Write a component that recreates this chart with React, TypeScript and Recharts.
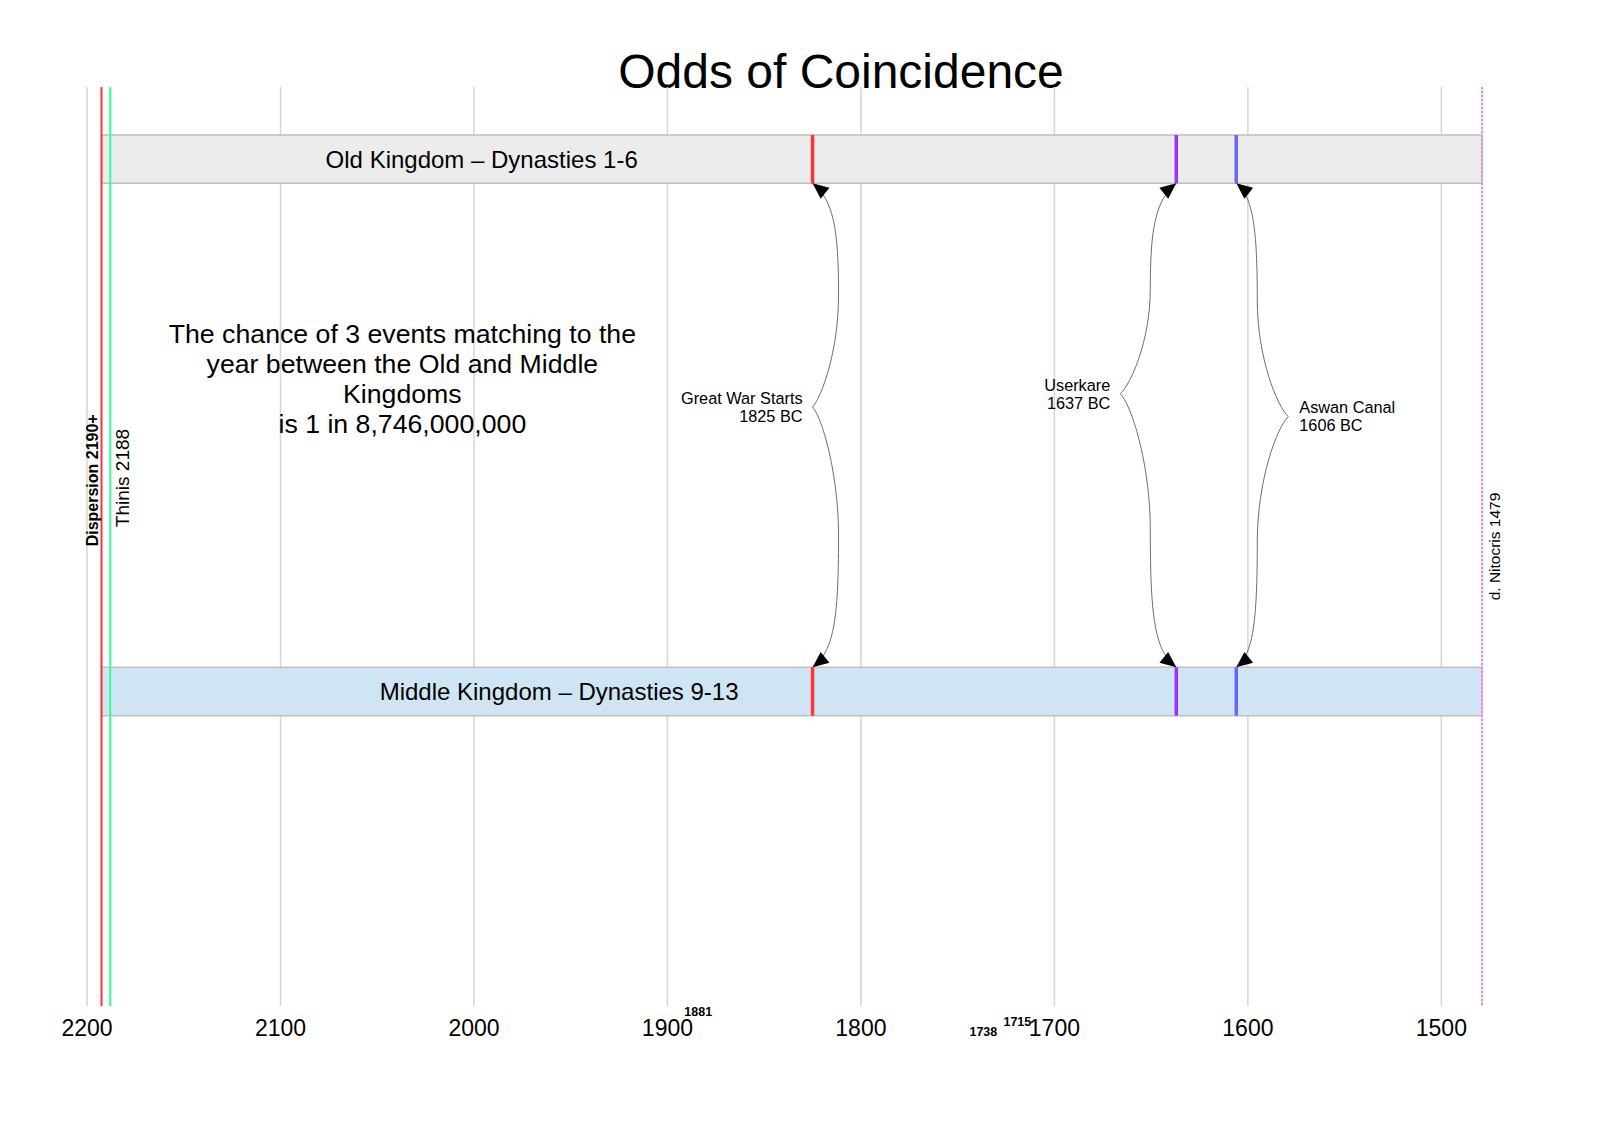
import React from 'react';
import {
  ComposedChart,
  XAxis,
  YAxis,
  CartesianGrid,
  ReferenceArea,
  ReferenceLine,
  ReferenceDot,
} from 'recharts';

// ---------- data ----------
const chartTitle = 'Odds of Coincidence';
const axisTicks = [2200, 2100, 2000, 1900, 1800, 1700, 1600, 1500];
const minorTickYears = [1881, 1738, 1715];

const kingdomNames = ['Old Kingdom – Dynasties 1-6', 'Middle Kingdom – Dynasties 9-13'];
const kingdomStart = [2192.5, 2192.5];
const kingdomEnd = [1479, 1479];

const eventNames = ['Great War Starts', 'Userkare', 'Aswan Canal'];
const eventYears = [1825, 1637, 1606];

const markerLabels = ['Dispersion 2190+', 'Thinis 2188', 'd. Nitocris 1479'];
const markerYears = [2192.5, 2188, 1479];

const noteLines = [
  'The chance of 3 events matching to the',
  'year between the Old and Middle',
  'Kingdoms',
  'is 1 in 8,746,000,000',
];

// ---------- layout / style ----------
const FONT = '"Liberation Sans", Arial, Helvetica, sans-serif';
const W = 1600;
const H = 1131;
const MARGIN = { top: 87, right: 118, bottom: 85, left: 87 };
const X_DOMAIN: [number, number] = [1479, 2200];
const Y_DOMAIN: [number, number] = [0, 100];

const barBands = [
  [89.52, 94.78],
  [31.59, 36.85],
];
const barFills = ['#ececec', '#d0e5f3'];
const barStroke = '#bfbfbf';
const barLabelAt = [
  [1996, 92.15],
  [1956, 34.22],
];
const notePos = [2037, 68.27];

const eventColors = ['#ff3333', '#9933ff', '#6666ff'];
const braceStyle = [
  { bodyDx: 26, tipDx: 0, tipFrac: 0.462, side: 'left' },
  { bodyDx: -26, tipDx: -56, tipFrac: 0.435, side: 'left' },
  { bodyDx: 21, tipDx: 52, tipFrac: 0.482, side: 'right' },
];

const markerStyle = [
  { color: '#ff3333', dash: undefined as string | undefined, fontSize: 16, bold: true, dx: -4, frac: 0.428 },
  { color: '#33ff99', dash: undefined as string | undefined, fontSize: 19, bold: false, dx: 19, frac: 0.4255 },
  { color: '#ff77ff', dash: '2 2', fontSize: 15.5, bold: false, dx: 17.5, frac: 0.5 },
];

const minorLabelStyle = [
  { dx: -6, dy: 9.5 },
  { dx: 2.5, dy: 29.8 },
  { dx: -8, dy: 19.5 },
];

// ---------- shapes ----------
function makeBrace(i: number) {
  const cfg = braceStyle[i];
  const lines = [eventNames[i], `${eventYears[i]} BC`];
  return (p: any) => {
    const x0 = p.x1;
    const yA = Math.min(p.y1, p.y2);
    const yB = Math.max(p.y1, p.y2);
    const xb = x0 + cfg.bodyDx;
    const xt = x0 + cfg.tipDx;
    const ym = yA + cfg.tipFrac * (yB - yA);
    const a = Math.abs(cfg.bodyDx);
    const c1x = x0 + 0.8 * cfg.bodyDx;
    const upMid = (yA + ym) / 2;
    const loMid = (ym + yB) / 2;
    const xc = xt + (xb - xt) * 0.35;
    const d =
      `M${x0},${yA} C${c1x},${yA + 0.64 * a} ${xb},${yA + 45} ${xb},${upMid} ` +
      `C${xb},${ym - (ym - yA) * 0.25} ${xc},${ym - 10} ${xt},${ym} ` +
      `C${xc},${ym + 10} ${xb},${ym + (yB - ym) * 0.25} ${xb},${loMid} ` +
      `C${xb},${yB - 45} ${c1x},${yB - 0.64 * a} ${x0},${yB}`;
    const head = (tx: number, ty: number, vx: number, vy: number) => {
      const n = Math.hypot(vx, vy) || 1;
      const ux = vx / n;
      const uy = vy / n;
      const L = 16;
      const hw = 7;
      const bx = tx - ux * L;
      const by = ty - uy * L;
      const px = -uy;
      const py = ux;
      return `${tx},${ty} ${bx + px * hw},${by + py * hw} ${bx - px * hw},${by - py * hw}`;
    };
    const topHead = head(x0, yA, -0.8 * cfg.bodyDx, -0.64 * a);
    const botHead = head(x0, yB, -0.8 * cfg.bodyDx, 0.64 * a);
    const left = cfg.side === 'left';
    const tx = left ? xt - 10 : xt + 11;
    return (
      <g>
        <path d={d} fill="none" stroke="#6e6e6e" strokeWidth={1} />
        <polygon points={topHead} fill="#000" />
        <polygon points={botHead} fill="#000" />
        {lines.map((t, k) => (
          <text
            key={k}
            x={tx}
            y={ym - 3.3 + k * 18}
            textAnchor={left ? 'end' : 'start'}
            fontFamily={FONT}
            fontSize={16.3}
            fill="#000"
          >
            {t}
          </text>
        ))}
      </g>
    );
  };
}

function makeMarker(i: number) {
  const s = markerStyle[i];
  return (p: any) => {
    const x = p.x1;
    const yA = Math.min(p.y1, p.y2);
    const yB = Math.max(p.y1, p.y2);
    const cy = yA + s.frac * (yB - yA);
    return (
      <g>
        <line x1={x} y1={yA} x2={x} y2={yB} stroke={s.color} strokeWidth={2} strokeDasharray={s.dash} />
        <text
          transform={`translate(${x + s.dx},${cy}) rotate(-90)`}
          textAnchor="middle"
          fontFamily={FONT}
          fontSize={s.fontSize}
          fontWeight={s.bold ? 'bold' : 'normal'}
          fill="#000"
        >
          {markerLabels[i]}
        </text>
      </g>
    );
  };
}

function makeMinorLabel(i: number) {
  const s = minorLabelStyle[i];
  return (p: any) => {
    const yB = Math.max(p.y1, p.y2);
    return (
      <text
        x={p.x1 + s.dx}
        y={yB + s.dy}
        textAnchor="middle"
        fontFamily={FONT}
        fontSize={12.5}
        fontWeight="bold"
        fill="#000"
      >
        {minorTickYears[i]}
      </text>
    );
  };
}

function makeBarLabel(i: number) {
  return (p: any) => (
    <text
      x={p.cx}
      y={p.cy + 8.6}
      textAnchor="middle"
      fontFamily={FONT}
      fontSize={24}
      fill="#000"
    >
      {kingdomNames[i]}
    </text>
  );
}

const noteShape = (p: any) => (
  <g>
    {noteLines.map((t, k) => (
      <text
        key={k}
        x={p.cx}
        y={p.cy + (k - 1.5) * 29.9 + 9.6}
        textAnchor="middle"
        fontFamily={FONT}
        fontSize={26.7}
        fill="#000"
      >
        {t}
      </text>
    ))}
  </g>
);

const tickData = axisTicks.map((year) => ({ year }));

export default function App() {
  return (
    <div style={{ position: 'absolute', left: 0, top: 0, width: W, height: H, background: '#fff' }}>
      <svg
        width={W}
        height={120}
        style={{ position: 'absolute', left: 0, top: 0, pointerEvents: 'none' }}
      >
        <text x={841} y={87.5} textAnchor="middle" fontFamily={FONT} fontSize={48} fill="#000">
          {chartTitle}
        </text>
      </svg>
      <ComposedChart width={W} height={H} data={tickData} margin={MARGIN}>
        <CartesianGrid horizontal={false} stroke="#d6d6d6" strokeWidth={1.5} />
        <XAxis
          dataKey="year"
          type="number"
          domain={X_DOMAIN}
          allowDataOverflow
          reversed
          ticks={axisTicks}
          interval={0}
          tickLine={false}
          axisLine={false}
          tickSize={6}
          tickMargin={8}
          height={40}
          tick={{ fontSize: 23, fill: '#000', fontFamily: FONT }}
        />
        <YAxis type="number" domain={Y_DOMAIN} allowDataOverflow hide />

        {markerYears.map((yr, i) => (
          <ReferenceLine key={`m${i}`} x={yr} stroke={markerStyle[i].color} shape={makeMarker(i)} />
        ))}

        {kingdomNames.map((name, i) => (
          <ReferenceArea
            key={`k${i}`}
            x1={kingdomStart[i]}
            x2={kingdomEnd[i]}
            y1={barBands[i][0]}
            y2={barBands[i][1]}
            fill={barFills[i]}
            fillOpacity={1}
            stroke={barStroke}
            strokeWidth={1.5}
          />
        ))}

        {kingdomNames.map((name, i) => (
          <ReferenceDot
            key={`kl${i}`}
            x={barLabelAt[i][0]}
            y={barLabelAt[i][1]}
            r={0}
            shape={makeBarLabel(i)}
          />
        ))}

        {eventYears.map((yr, i) =>
          barBands.map((band, j) => (
            <ReferenceLine
              key={`e${i}-${j}`}
              segment={[
                { x: yr, y: band[0] },
                { x: yr, y: band[1] },
              ]}
              stroke={eventColors[i]}
              strokeWidth={3.5}
            />
          ))
        )}

        {eventYears.map((yr, i) => (
          <ReferenceLine
            key={`b${i}`}
            segment={[
              { x: yr, y: barBands[0][0] },
              { x: yr, y: barBands[1][1] },
            ]}
            stroke="#6e6e6e"
            shape={makeBrace(i)}
          />
        ))}

        {minorTickYears.map((yr, i) => (
          <ReferenceLine key={`mt${i}`} x={yr} stroke="none" shape={makeMinorLabel(i)} />
        ))}

        <ReferenceDot x={notePos[0]} y={notePos[1]} r={0} shape={noteShape} />
      </ComposedChart>
    </div>
  );
}
